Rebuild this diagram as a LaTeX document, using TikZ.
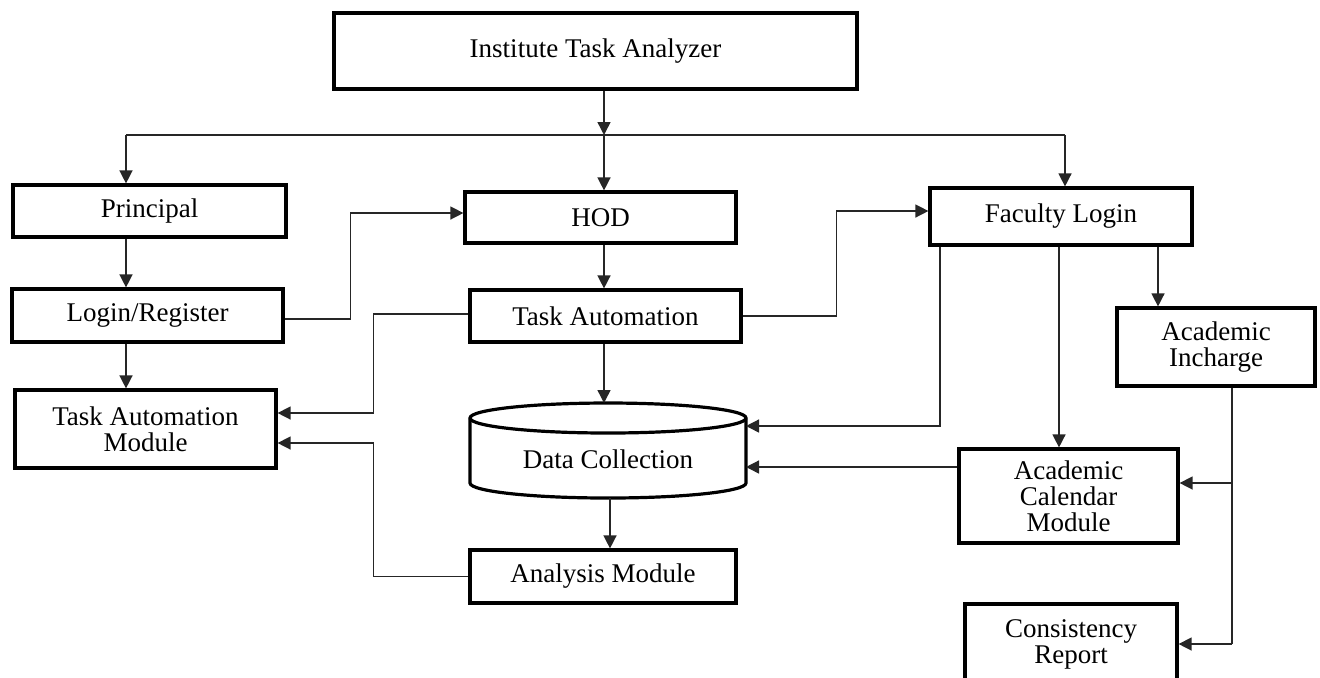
\documentclass[tikz,border=0pt]{standalone}
\usepackage{fontspec}
\setmainfont{Liberation Serif}
\usetikzlibrary{arrows.meta}
\begin{document}
\begin{tikzpicture}[x=0.5pt,y=-0.5pt,
  lbl/.style={font=\fontsize{13.5}{13}\selectfont, align=center},
  box/.style={lbl, draw=black, line width=1.6pt, fill=white, inner sep=0pt},
  conn/.style={draw=black!85, line width=0.7pt},
  arr/.style={conn, -{Triangle[length=6.5pt,width=6.5pt]}}]
\useasboundingbox (0,0) rectangle (1320,677);
\fill[white] (0,0) rectangle (1320,677);

% boxes
\node[box, minimum width=261.5pt, minimum height=38pt] (ita) at (595.5,51) {Institute Task Analyzer};
\node[box, minimum width=136.5pt, minimum height=26pt] (pri) at (149.5,211) {Principal};
\node[box, minimum width=135.5pt, minimum height=25.5pt] (hod) at (600.5,217.5) {HOD};
\node[box, minimum width=131pt, minimum height=28.5pt] (fl) at (1061,216.5) {Faculty Login};
\node[box, minimum width=135.5pt, minimum height=26.5pt] (log) at (147.5,315.5) {Login/Register};
\node[box, minimum width=135.5pt, minimum height=26pt] (ta) at (605.5,316) {Task Automation};
\node[box, minimum width=99pt, minimum height=39pt] (ai) at (1216,347) {Academic\\Incharge};
\node[box, minimum width=130.5pt, minimum height=39pt] (tam) at (145.5,429) {Task Automation\\Module};
\node[box, minimum width=133pt, minimum height=26.5pt] (am) at (603,576.5) {Analysis Module};
\node[box, minimum width=109.5pt, minimum height=47pt] (acm) at (1068.5,496) {Academic\\Calendar\\Module};
\node[box, minimum width=106pt, minimum height=40pt] (cr) at (1071,644) {Consistency\\Report};

% data store cylinder
\draw[line width=1.6pt, fill=white]
  (470,418) -- (470,483) arc[start angle=180, end angle=360, x radius=69pt, y radius=7.5pt]
  -- (746,418) arc[start angle=0, end angle=180, x radius=69pt, y radius=7.5pt] -- cycle;
\draw[line width=1.6pt] (470,418) arc[start angle=180, end angle=360, x radius=69pt, y radius=7.5pt];
\node[lbl, inner sep=0pt] (dc) at (608,459) {Data Collection};
\coordinate (dcN) at (604,403);
\coordinate (dcS) at (610,498);
\coordinate (dcA) at (746,426);
\coordinate (dcB) at (746,467);

% distribution bus under the title box
\coordinate (bus) at (604,135);
\coordinate (busL) at (126,135);
\coordinate (busR) at (1065,135);
\draw[arr] (ita.south -| bus) -- (bus);
\draw[conn] (busL) -- (busR);
\draw[arr] (busL) -- (busL |- pri.north);
\draw[arr] (bus) -- (bus |- hod.north);
\draw[arr] (busR) -- (busR |- fl.north);

% left column
\draw[arr] (pri.south -| busL) -- (log.north -| busL);
\draw[arr] (log.south -| busL) -- (tam.north -| busL);
\draw[arr] ([yshift=-1.75pt]log.east) -- ++(66,0) |- ([yshift=2.25pt]hod.west);

% middle column
\draw[arr] (hod.south -| bus) -- (ta.north -| bus);
\draw[arr] (ta.south -| dcN) -- (dcN);
\draw[arr] (dcS) -- (dcS |- am.north);
\draw[arr] ([yshift=1pt]ta.west) -- ++(-95,0) |- ([yshift=8pt]tam.east);
\draw[arr] (am.west) -- ++(-95,0) |- ([yshift=-7pt]tam.east);
\draw[arr] (ta.east) -- ++(94,0) |- ([yshift=2.75pt]fl.west);

% right column
\coordinate (f1) at ([xshift=-60.5pt]fl.south);
\coordinate (f2) at ([xshift=-1pt]fl.south);
\coordinate (f3) at ([xshift=48.5pt]fl.south);
\draw[arr] (f1) |- (dcA);
\draw[arr] (f2) -- (f2 |- acm.north);
\draw[arr] (f3) -- (f3 |- ai.north);
\draw[arr] ([yshift=14.5pt]acm.west) -- (dcB);
\coordinate (a1) at ([xshift=8pt]ai.south);
\coordinate (acmR) at ([yshift=6.5pt]acm.east);
\draw[conn] (a1) -- (a1 |- cr.east);
\draw[arr] (a1 |- cr.east) -- (cr.east);
\draw[arr] (a1 |- acmR) -- (acmR);
\end{tikzpicture}
\end{document}
